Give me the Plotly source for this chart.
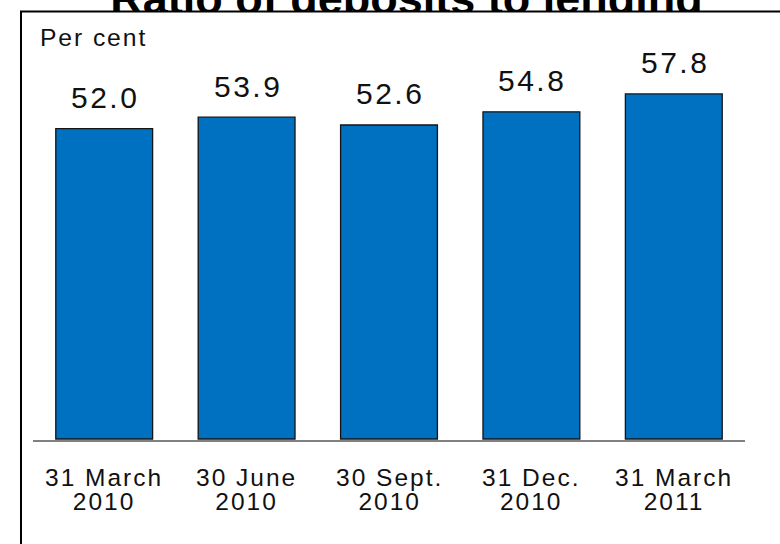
import plotly.graph_objects as go

# Quarter-end dates (two-line labels) and the deposits-to-lending ratio, per cent
date_line1 = ["31 March", "30 June", "30 Sept.", "31 Dec.", "31 March"]
date_line2 = ["2010", "2010", "2010", "2010", "2011"]
ratio = [52.0, 53.9, 52.6, 54.8, 57.8]

title_text = "Ratio of deposits to lending"
unit_text = "Per cent"

categories = [f"{a} {b}" for a, b in zip(date_line1, date_line2)]

W, H = 780, 544
PL, PR, PT, PB = 33, 745, 60, 440      # plot area edges in pixels
PX_PER_UNIT = 5.97
ZERO_PX = 439

def px_x(px):
    return (px - PL) / (PR - PL)

def px_y(py):
    return (PB - py) / (PB - PT)

y_lo = -(PB - ZERO_PX) / PX_PER_UNIT
y_hi = y_lo + (PB - PT) / PX_PER_UNIT

TXT = "Liberation Sans"
ASC, DESC = 0.905, 0.212   # font ascent / descent, em
BLUE = "#0070C0"
INK = "#111111"

def spaced(s, px, size=None):
    style = f"letter-spacing:{px}px"
    if size:
        style += f";font-size:{size}px"
    return f'<span style="{style}">{s}</span>'

fig = go.Figure()
fig.add_trace(go.Bar(
    x=categories,
    y=ratio,
    marker=dict(color=BLUE, line=dict(color="#141414", width=1.3)),
    hoverinfo="skip",
))

annotations = []
# value labels above each bar
for c, v in zip(categories, ratio):
    annotations.append(dict(
        x=c, y=v, xref="x", yref="y", text=spaced(f"{v:.1f}", 2.5),
        showarrow=False, xanchor="center", yanchor="bottom",
        yshift=21 - (DESC * 30 + 2), xshift=1,
        font=dict(family=TXT, size=30, color=INK),
    ))

# two-line date labels under the axis; the annotation's own font size sets
# the (tight) line pitch, the spans set the glyph size
LABEL_SIZE = 24.5
LINE_PITCH = 24.3
base_size = LINE_PITCH / 1.3
for c, a, b in zip(categories, date_line1, date_line2):
    annotations.append(dict(
        x=c, y=px_y(485.7 - ASC * LABEL_SIZE - 2), xref="x", yref="paper",
        text=spaced(a, 2, LABEL_SIZE) + "<br>" + spaced(b, 2, LABEL_SIZE),
        showarrow=False, xanchor="center", yanchor="top", align="center",
        font=dict(family=TXT, size=base_size, color=INK),
    ))

# unit label in the top-left corner of the frame
annotations.append(dict(
    x=px_x(37.5), y=px_y(46 + DESC * 24.7 + 2), xref="paper", yref="paper",
    text=spaced(unit_text, 1.9), showarrow=False, xanchor="left",
    yanchor="bottom", font=dict(family=TXT, size=24.7, color=INK),
))

shapes = [
    # title, drawn as a shape label so the frame can sit over its descenders
    dict(type="rect", xref="paper", yref="paper",
         x0=px_x(33), x1=px_x(780), y0=px_y(-80), y1=px_y(10 + 0.212 * 45),
         line=dict(width=0), fillcolor="rgba(0,0,0,0)", layer="above",
         label=dict(text=f"<b>{title_text}</b>", textposition="bottom center",
                    yanchor="bottom", padding=0,
                    font=dict(family="Liberation Sans", size=45, color="#000000"))),
    # white band just inside the frame top
    dict(type="rect", xref="paper", yref="paper",
         x0=px_x(22), x1=px_x(800), y0=px_y(12), y1=px_y(24),
         line=dict(width=0), fillcolor="#ffffff", layer="above"),
    # frame
    dict(type="rect", xref="paper", yref="paper",
         x0=px_x(21), x1=px_x(820), y0=px_y(11.5), y1=px_y(620),
         line=dict(color="#000000", width=2), fillcolor="rgba(0,0,0,0)",
         layer="above"),
]

fig.update_layout(
    width=W, height=H,
    margin=dict(l=PL, r=W - PR, t=PT, b=H - PB, pad=0),
    paper_bgcolor="#ffffff", plot_bgcolor="#ffffff",
    showlegend=False,
    bargap=0.32,
    annotations=annotations,
    shapes=shapes,
    xaxis=dict(type="category", range=[-0.5, 4.5], showticklabels=False,
               showgrid=False, zeroline=False, ticks="",
               showline=True, linecolor="#808080", linewidth=2,
               fixedrange=True),
    yaxis=dict(range=[y_lo, y_hi], visible=False, fixedrange=True),
)

fig.write_html("out.html")
